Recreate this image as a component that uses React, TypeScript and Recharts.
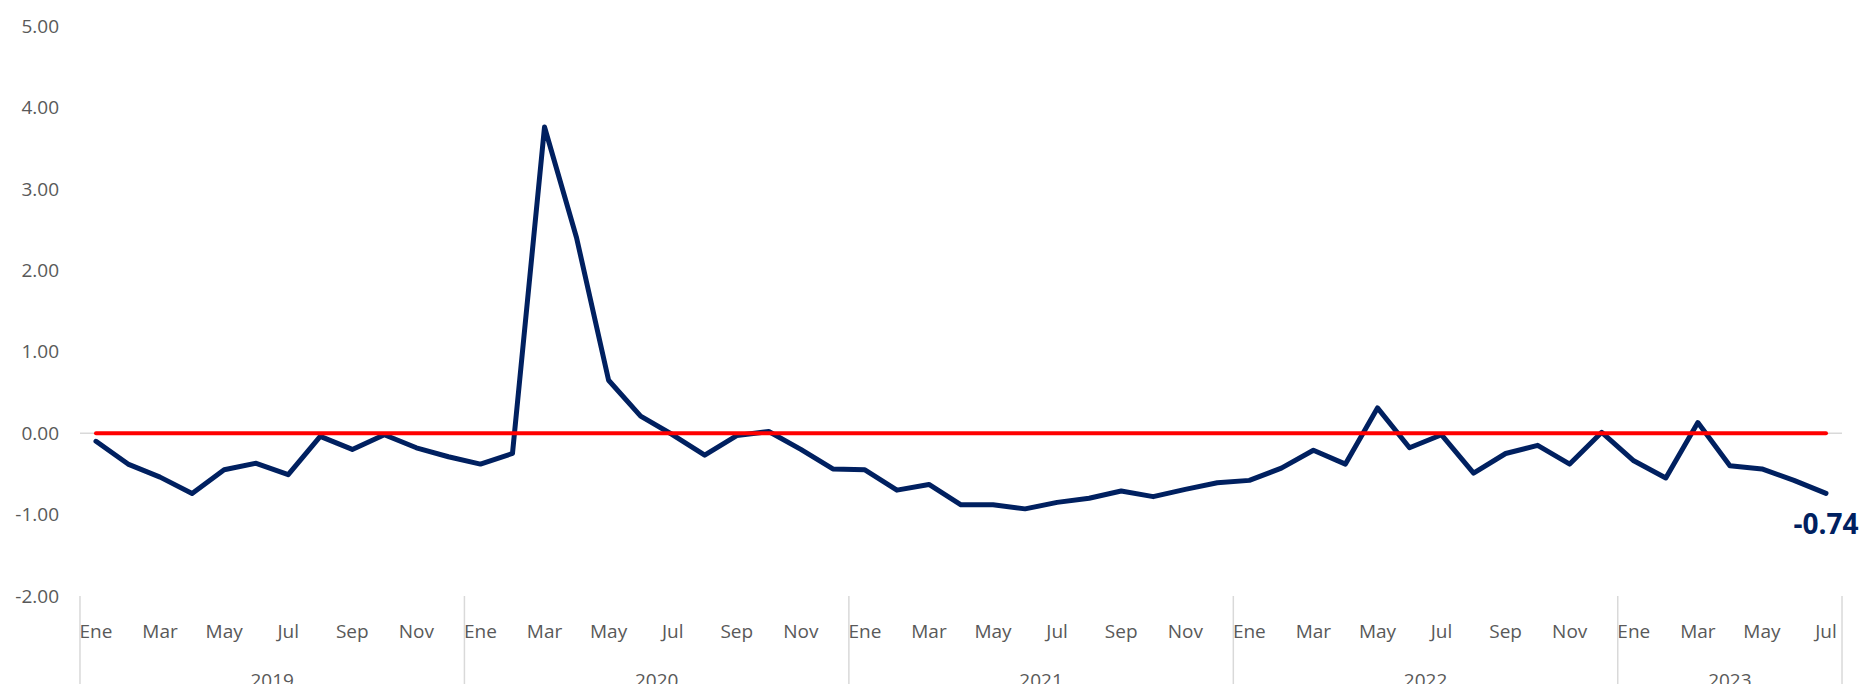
import { LineChart, Line, XAxis, YAxis, ReferenceLine, LabelList } from "recharts";

const MESES = ["Ene", "Feb", "Mar", "Abr", "May", "Jun", "Jul", "Ago", "Sep", "Oct", "Nov", "Dic"];
const ANIOS = ["2019", "2020", "2021", "2022", "2023"];

// variación mensual, ene-2019 a jul-2023
const VALORES = [
  -0.10, -0.38, -0.54, -0.74, -0.45, -0.37, -0.51, -0.04, -0.20, -0.02, -0.18, -0.29,
  -0.38, -0.25, 3.76, 2.40, 0.65, 0.21, -0.02, -0.27, -0.03, 0.02, -0.20, -0.44,
  -0.45, -0.70, -0.63, -0.88, -0.88, -0.93, -0.85, -0.80, -0.71, -0.78, -0.69, -0.61,
  -0.58, -0.43, -0.21, -0.38, 0.31, -0.18, -0.02, -0.49, -0.25, -0.15, -0.38, 0.01,
  -0.34, -0.55, 0.13, -0.40, -0.44, -0.58, -0.74,
];

const Y_TICKS = [-2, -1, 0, 1, 2, 3, 4, 5];

const data = VALORES.map((valor, i) => ({
  periodo: `${MESES[i % 12]}-${ANIOS[Math.floor(i / 12)]}`,
  mes: i % 12,
  anio: ANIOS[Math.floor(i / 12)],
  valor,
}));

const W = 1862;
const H = 684;
const PLOT_LEFT = 80;
const PLOT_RIGHT = 1842;
const PAD = 16;
const STEP = (PLOT_RIGHT - PLOT_LEFT - 2 * PAD) / (data.length - 1);

const FONT = "'Open Sans', 'Noto Sans', sans-serif";
const GRIS = "#595959";

function MesTick(props: any) {
  const { x, y, payload } = props;
  const idx = data.findIndex((d) => d.periodo === payload.value);
  if (idx < 0) return null;
  const d = data[idx];
  const half = STEP / 2;
  const nAnio = data.filter((r) => r.anio === d.anio).length;
  return (
    <g>
      {d.mes % 2 === 0 && (
        <text x={x} y={y + 35} textAnchor="middle" dominantBaseline="central"
          fill={GRIS} fontSize={19} fontFamily={FONT}>
          {MESES[d.mes]}
        </text>
      )}
      {d.mes === 0 && (
        <>
          <line x1={x - half} x2={x - half} y1={y} y2={y + 90} stroke="#d9d9d9" strokeWidth={1.5} />
          <text x={x - half + (nAnio * STEP) / 2} y={y + 84} textAnchor="middle" dominantBaseline="central"
            fill={GRIS} fontSize={19} fontFamily={FONT}>
            {d.anio}
          </text>
        </>
      )}
      {idx === data.length - 1 && (
        <line x1={x + half} x2={x + half} y1={y} y2={y + 90} stroke="#d9d9d9" strokeWidth={1.5} />
      )}
    </g>
  );
}

function Etiqueta(props: any) {
  const { x, y, value, index } = props;
  if (index !== data.length - 1) return null;
  return (
    <text x={x} y={y + 30} textAnchor="middle" dominantBaseline="central"
      fill="#002060" fontSize={28} fontWeight={700} fontFamily={FONT}>
      {Number(value).toFixed(2)}
    </text>
  );
}

export default function App() {
  return (
    <div style={{ position: "absolute", left: 0, top: 0, background: "#fff" }}>
      <LineChart width={W} height={H} data={data}
        margin={{ top: 26, right: W - PLOT_RIGHT, bottom: 0, left: 0 }}>
        <XAxis dataKey="periodo" interval={0} tick={(p: any) => <MesTick {...p} />}
          axisLine={false} tickLine={false} tickSize={0} tickMargin={0} height={88}
          padding={{ left: PAD, right: PAD }} />
        <YAxis domain={[-2, 5]} ticks={Y_TICKS} tickFormatter={(v: number) => v.toFixed(2)}
          axisLine={false} tickLine={false} tickSize={0} tickMargin={21} width={PLOT_LEFT}
          tick={{ fill: GRIS, fontSize: 19, fontFamily: FONT }} />
        <ReferenceLine y={0} stroke="#d9d9d9" strokeWidth={1.5} />
        <Line type="linear" dataKey="valor" stroke="#002060" strokeWidth={5} dot={false}
          strokeLinejoin="round" strokeLinecap="round" isAnimationActive={false}>
          <LabelList dataKey="valor" content={(p: any) => <Etiqueta {...p} />} />
        </Line>
        <ReferenceLine segment={[{ x: data[0].periodo, y: 0 }, { x: data[data.length - 1].periodo, y: 0 }]}
          stroke="#ff0000" strokeWidth={4} strokeLinecap="round" />
      </LineChart>
    </div>
  );
}
